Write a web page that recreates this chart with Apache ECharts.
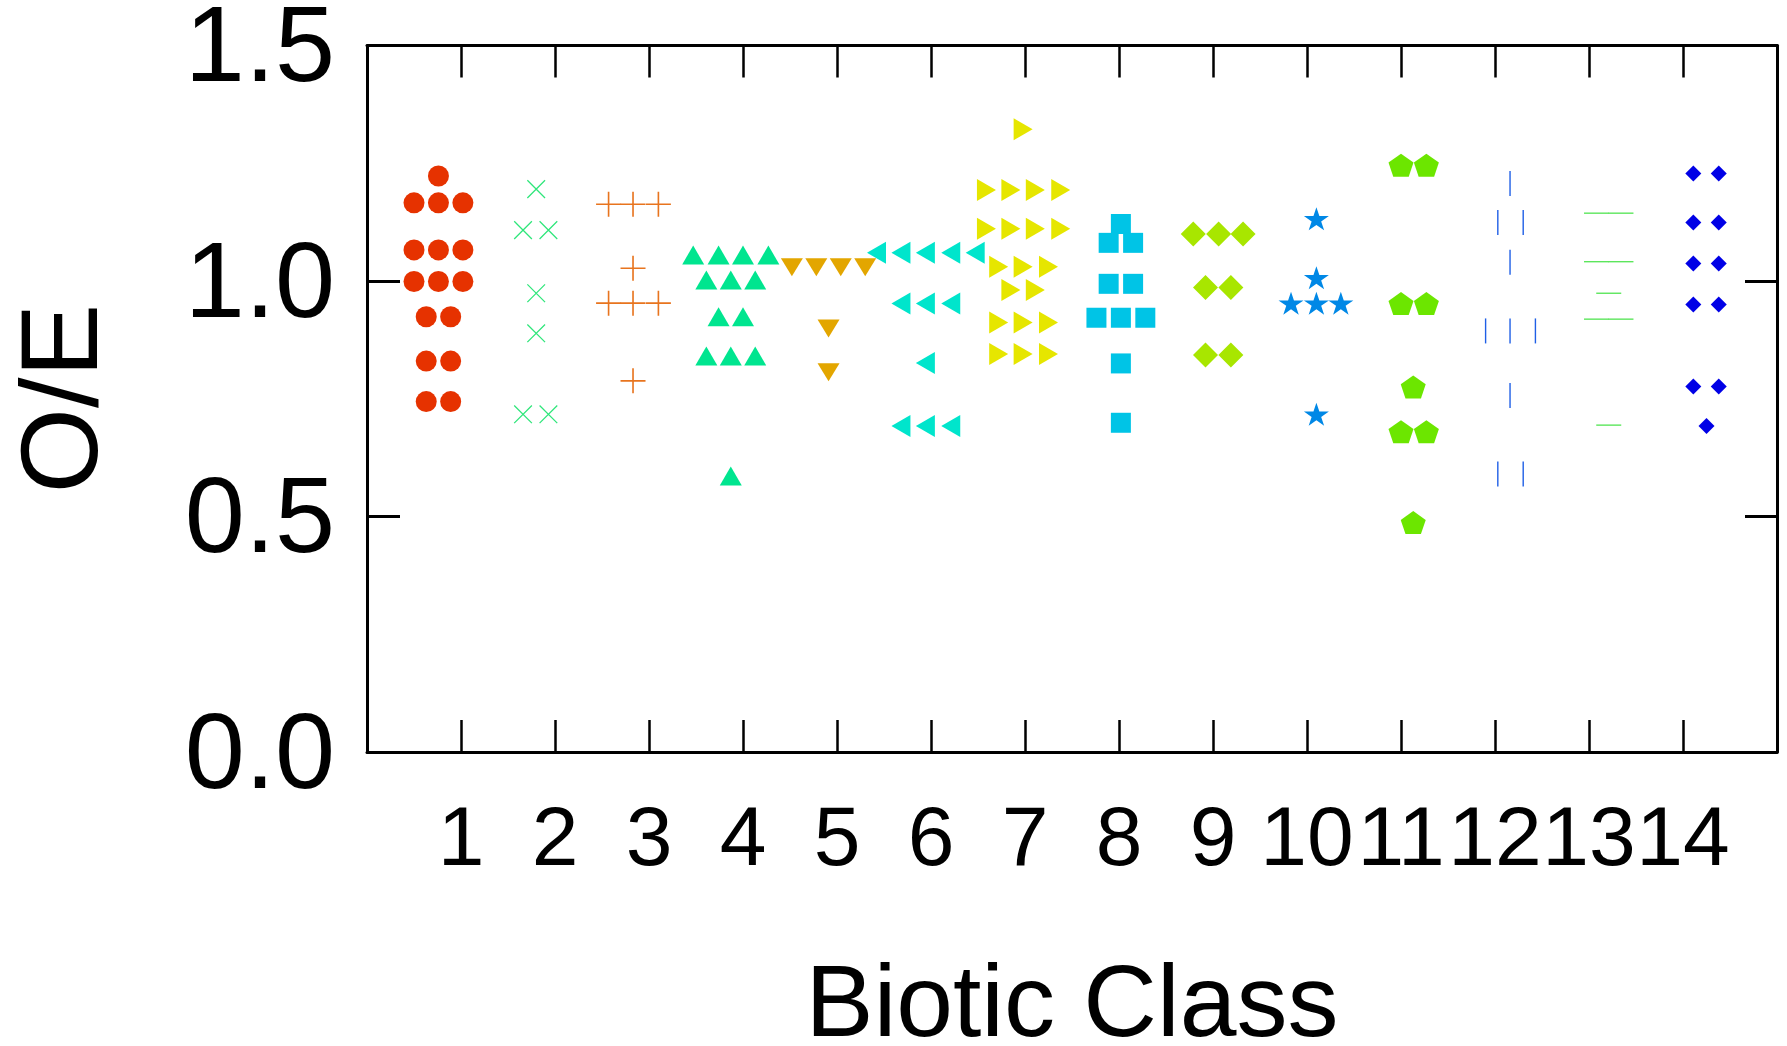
<!DOCTYPE html>
<html>
<head>
<meta charset="utf-8">
<title>O/E by Biotic Class</title>
<script src="https://cdn.jsdelivr.net/npm/echarts@6/dist/echarts.min.js"></script>
<style>
  html, body { margin: 0; padding: 0; background: #fff; }
  #chart { width: 1787px; height: 1046px; }
</style>
</head>
<body>
<div id="chart"></div>
<script>
// tick labels
const xTickLabels = ['1', '2', '3', '4', '5', '6', '7', '8', '9', '10', '11', '12', '13', '14']
const yTickLabels = ['0.0', '0.5', '1.0', '1.5']

// points per biotic class: [x, O/E]
const class1 = [[0.76, 1.223],
  [0.50, 1.166], [0.76, 1.166], [1.02, 1.166],
  [0.50, 1.066], [0.76, 1.066], [1.02, 1.066],
  [0.50, 0.999], [0.76, 0.999], [1.02, 0.999],
  [0.63, 0.924], [0.89, 0.924],
  [0.63, 0.830], [0.89, 0.830],
  [0.63, 0.744], [0.89, 0.744]]
const class2 = [[1.80, 1.195], [1.66, 1.108], [1.93, 1.108], [1.80, 0.974], [1.80, 0.889], [1.66, 0.717], [1.93, 0.717]]
const class3 = [[2.57, 1.163], [2.83, 1.163], [3.10, 1.163], [2.83, 1.027],
  [2.57, 0.953], [2.83, 0.953], [3.10, 0.953], [2.83, 0.788]]
const class4 = [[3.47, 1.055], [3.74, 1.055], [4.00, 1.055], [4.27, 1.055],
  [3.61, 1.002], [3.87, 1.002], [4.13, 1.002],
  [3.74, 0.924], [4.00, 0.924],
  [3.61, 0.841], [3.87, 0.841], [4.13, 0.841],
  [3.87, 0.586]]
const class5 = [[4.52, 1.029], [4.78, 1.029], [5.04, 1.029], [5.30, 1.029], [4.91, 0.899], [4.91, 0.806]]
const class6 = [[5.42, 1.060], [5.68, 1.060], [5.94, 1.060], [6.21, 1.060], [6.47, 1.060],
  [5.68, 0.952], [5.94, 0.952], [6.21, 0.952],
  [5.94, 0.826],
  [5.68, 0.692], [5.94, 0.692], [6.21, 0.692]]
const class7 = [[6.98, 1.322],
  [6.59, 1.193], [6.85, 1.193], [7.11, 1.193], [7.38, 1.193],
  [6.59, 1.111], [6.85, 1.111], [7.11, 1.111], [7.38, 1.111],
  [6.72, 1.030], [6.98, 1.030], [7.25, 1.030],
  [6.85, 0.981], [7.11, 0.981],
  [6.72, 0.912], [6.98, 0.912], [7.25, 0.912],
  [6.72, 0.845], [6.98, 0.845], [7.25, 0.845]]
const class8 = [[8.02, 1.121], [7.89, 1.081], [8.15, 1.081], [7.89, 0.994], [8.15, 0.994],
  [7.76, 0.922], [8.02, 0.922], [8.28, 0.922], [8.02, 0.825], [8.02, 0.699]]
const class9 = [[8.79, 1.100], [9.06, 1.100], [9.32, 1.100], [8.92, 0.986], [9.19, 0.986], [8.92, 0.843], [9.19, 0.843]]
const class10 = [[10.10, 1.132], [10.10, 1.007], [9.83, 0.953], [10.10, 0.953], [10.36, 0.953], [10.10, 0.717]]
const class11 = [[11.00, 1.246], [11.27, 1.246], [11.00, 0.952], [11.27, 0.952],
  [11.13, 0.775], [11.00, 0.680], [11.27, 0.680], [11.13, 0.487]]
const class12 = [[12.16, 1.207], [12.03, 1.124], [12.30, 1.124], [12.16, 1.040],
  [11.90, 0.894], [12.16, 0.894], [12.43, 0.894], [12.16, 0.757], [12.03, 0.590], [12.30, 0.590]]
const class13 = [[13.08, 1.144], [13.34, 1.144], [13.08, 1.041], [13.34, 1.041],
  [13.21, 0.974], [13.08, 0.919], [13.34, 0.919], [13.21, 0.694]]
const class14 = [[14.11, 1.228], [14.38, 1.228], [14.11, 1.124], [14.38, 1.124],
  [14.11, 1.037], [14.38, 1.037], [14.11, 0.950], [14.38, 0.950],
  [14.11, 0.776], [14.38, 0.776], [14.25, 0.692]]

const classPoints = [class1, class2, class3, class4, class5, class6, class7,
  class8, class9, class10, class11, class12, class13, class14]

// marker shapes
const plusThin = 'path://M0,9.5H20V10.5H0Z M9.5,0H10.5V20H9.5Z'
const plus = 'path://M0,9.35H20V10.65H0Z M9.35,0H10.65V20H9.35Z'
const star = 'path://M50,0L61.23,34.55L97.55,34.55L68.17,55.9L79.39,90.45L50,69.1L20.61,90.45L31.83,55.9L2.45,34.55L38.77,34.55Z'
const pentagon = 'path://M50,0L97.55,34.55L79.39,90.45L20.61,90.45L2.45,34.55Z'

const markerStyles = [
  { symbol: 'circle', size: 21, color: '#e63200' },
  { symbol: plusThin, size: 25, rotate: 45, color: '#2ee67a' },
  { symbol: plus, size: 25, color: '#e8741e' },
  { symbol: 'triangle', size: [22, 19], color: '#00e58f' },
  { symbol: 'triangle', size: [22, 18], rotate: 180, color: '#e3a600' },
  { symbol: 'triangle', size: [22, 19], rotate: 90, color: '#00e5cc' },
  { symbol: 'triangle', size: [22, 19], rotate: -90, color: '#e6e600' },
  { symbol: 'rect', size: 20, color: '#00c4e6' },
  { symbol: 'diamond', size: 25, color: '#a8e600' },
  { symbol: star, size: [25, 23], color: '#0088e6' },
  { symbol: pentagon, size: [25, 23], color: '#6ce600' },
  { symbol: 'rect', size: [1.4, 25], color: '#1f5fe6' },
  { symbol: 'rect', size: [25, 1.4], color: '#5ce65c' },
  { symbol: 'diamond', size: 16, color: '#0000e6' }
]

const font = '"Comic Sans MS", "Liberation Sans", sans-serif'

const chart = echarts.init(document.getElementById('chart'))

const frameAxis = {
  axisLine: { show: true, onZero: false, lineStyle: { color: '#000', width: 3 } },
  splitLine: { show: false }
}

chart.setOption({
  animation: false,
  backgroundColor: '#fff',
  grid: { left: 367, right: 10, top: 45.5, bottom: 294, outerBoundsMode: 'none' },
  xAxis: [
    {
      ...frameAxis,
      type: 'value', min: 0, max: 15, interval: 1, position: 'bottom',
      axisTick: { inside: true, length: 32, lineStyle: { color: '#000', width: 2.5 } },
      axisLabel: {
        color: '#000', fontSize: 84, fontFamily: font, margin: 48,
        formatter: v => xTickLabels[v - 1] || ''
      },
      name: 'Biotic Class', nameLocation: 'middle', nameGap: 205,
      nameTextStyle: { color: '#000', fontSize: 102, fontFamily: font }
    },
    {
      ...frameAxis,
      type: 'value', min: 0, max: 15, interval: 1, position: 'top',
      axisTick: { inside: true, length: 32, lineStyle: { color: '#000', width: 2.5 } },
      axisLabel: { show: false }
    }
  ],
  yAxis: [
    {
      ...frameAxis,
      type: 'value', min: 0, max: 1.5, interval: 0.5, position: 'left',
      axisTick: { inside: true, length: 33, lineStyle: { color: '#000', width: 3 } },
      axisLabel: {
        color: '#000', fontSize: 108, fontFamily: font, margin: 32,
        formatter: v => '{t|' + yTickLabels[Math.round(v / 0.5)] + '}',
        rich: { t: { fontSize: 108, fontFamily: font, color: '#000', padding: [12, 0, 0, 0] } }
      },
      name: 'O/E', nameLocation: 'middle', nameGap: 245, nameRotate: 90,
      nameTextStyle: { color: '#000', fontSize: 110, fontFamily: font }
    },
    {
      ...frameAxis,
      type: 'value', min: 0, max: 1.5, interval: 0.5, position: 'right',
      axisTick: { inside: true, length: 32, lineStyle: { color: '#000', width: 3 } },
      axisLabel: { show: false }
    }
  ],
  series: classPoints.map((pts, i) => ({
    type: 'scatter',
    name: xTickLabels[i],
    data: pts,
    symbol: markerStyles[i].symbol,
    symbolSize: markerStyles[i].size,
    symbolRotate: markerStyles[i].rotate || 0,
    itemStyle: { color: markerStyles[i].color, opacity: 1 },
    emphasis: { disabled: true }
  }))
})
</script>
</body>
</html>
